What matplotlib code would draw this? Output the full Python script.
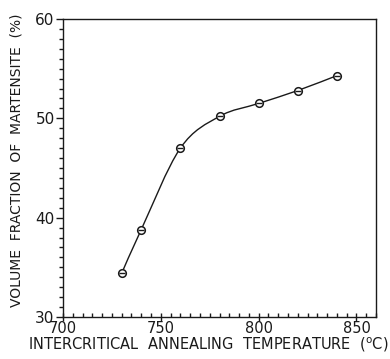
import matplotlib
matplotlib.use("Agg")
import matplotlib.pyplot as plt
from matplotlib.path import Path
from matplotlib.patches import PathPatch
from matplotlib.ticker import MultipleLocator
import numpy as np

temperature = [730, 740, 760, 780, 800, 820, 840]
martensite = [34.4, 38.8, 47.0, 50.2, 51.5, 52.8, 54.3]
x_ticks = [700, 750, 800, 850]
y_ticks = [30, 40, 50, 60]
x_label = r"INTERCRITICAL  ANNEALING  TEMPERATURE  ($^{\mathrm{o}}$C)"
y_label = "VOLUME  FRACTION  OF  MARTENSITE  (%)"

plt.rcParams['font.family'] = ['DejaVu Sans']
ink = '#1a1a1a'

fig = plt.figure(figsize=(3.9, 3.59), dpi=100)
ax = fig.add_axes([63/390, 1-317/359, (376-63)/390, (317-19)/359])

# smooth curve through points (Catmull-Rom as Bezier path)
pts = np.column_stack([temperature, martensite]).astype(float)
n = len(pts)
verts = [pts[0]]
codes = [Path.MOVETO]
for i in range(n-1):
    p0 = pts[i-1] if i > 0 else pts[i]
    p1 = pts[i]
    p2 = pts[i+1]
    p3 = pts[i+2] if i+2 < n else pts[i+1]
    c1 = p1 + (p2 - p0)/6.0
    c2 = p2 - (p3 - p1)/6.0
    verts += [c1, c2, p2]
    codes += [Path.CURVE4]*3
ax.add_patch(PathPatch(Path(verts, codes), fill=False, edgecolor=ink, lw=1.0))

ax.plot(temperature, martensite, linestyle='none', marker='o', ms=5.5,
        mfc='white', mec=ink, mew=1.1, zorder=3)
ax.plot(temperature, martensite, linestyle='none', marker='_', ms=5,
        mec=ink, mew=1.0, zorder=4)

ax.set_xlim(700, 860)
ax.set_ylim(30, 60)
ax.set_xticks(x_ticks)
ax.set_yticks(y_ticks)
ax.xaxis.set_minor_locator(MultipleLocator(5))
ax.yaxis.set_minor_locator(MultipleLocator(1))
for s in ax.spines.values():
    s.set_color(ink)
    s.set_linewidth(1.0)
ax.tick_params(axis='x', which='major', direction='inout', length=6, width=1, colors=ink, labelsize=10.5, pad=0)
ax.tick_params(axis='x', which='minor', direction='in', length=3, width=1, colors=ink)
ax.tick_params(axis='y', which='major', direction='out', length=5, width=1, colors=ink, labelsize=11, pad=1)
ax.tick_params(axis='y', which='minor', direction='out', length=3, width=1, colors=ink)
for lab in ax.get_xticklabels() + ax.get_yticklabels():
    lab.set_color(ink)

fig.text(208/390, 1-345/359, x_label, ha='center', va='center', fontsize=10.5, color=ink)
fig.text(17/390, 1-160/359, y_label, ha='center', va='center', rotation=90, fontsize=10, color=ink)

fig.savefig('out.png', dpi=100)
